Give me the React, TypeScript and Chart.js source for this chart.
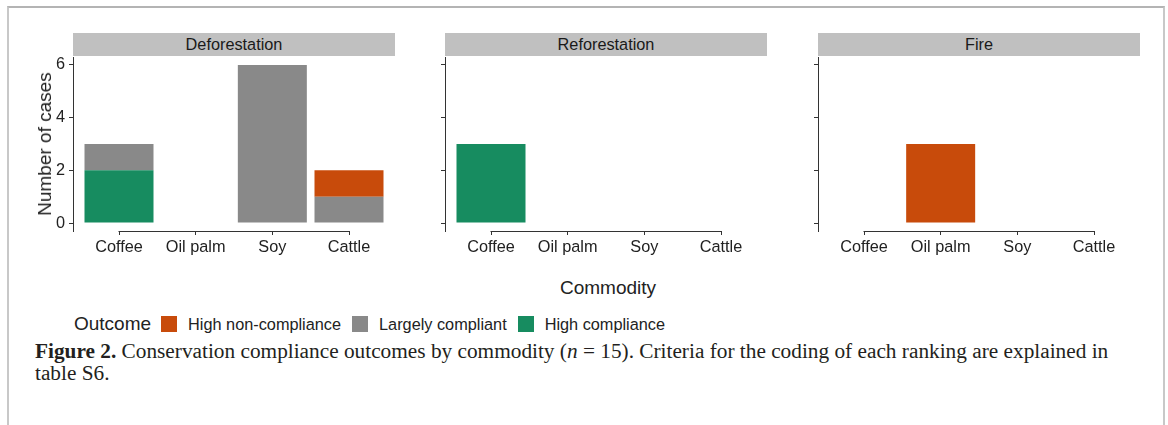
import React, { useEffect, useRef } from "react";
import { Chart, registerables } from "chart.js";

Chart.register(...registerables);

// ---------- data ----------
const commodities = ["Coffee", "Oil palm", "Soy", "Cattle"];
const panelTitles = ["Deforestation", "Reforestation", "Fire"];
const outcomes = ["High non-compliance", "Largely compliant", "High compliance"];
const outcomeColors = ["#C84B0B", "#898989", "#178C60"];
const yTicks = [0, 2, 4, 6];

// number of cases per commodity (Coffee, Oil palm, Soy, Cattle)
const deforestationHighNon = [0, 0, 0, 1];
const deforestationLargely = [1, 0, 6, 1];
const deforestationHigh = [2, 0, 0, 0];

const reforestationHighNon = [0, 0, 0, 0];
const reforestationLargely = [0, 0, 0, 0];
const reforestationHigh = [3, 0, 0, 0];

const fireHighNon = [0, 3, 0, 0];
const fireLargely = [0, 0, 0, 0];
const fireHigh = [0, 0, 0, 0];

const panelSeries = [
  [deforestationHighNon, deforestationLargely, deforestationHigh],
  [reforestationHighNon, reforestationLargely, reforestationHigh],
  [fireHighNon, fireLargely, fireHigh],
];

// ---------- layout ----------
const SANS = "'Liberation Sans', Arial, Helvetica, sans-serif";
const SERIF = "'Liberation Serif', 'Times New Roman', serif";
const TEXT = "#222222";
const AXIS = "#333333";
const panelLefts = [73, 445, 818];
const plotW = 322;
const plotTop = 57;
const plotH = 174;
const yAxisW = 60;
const xAxisH = 35;
const padTop = 17;
const padRight = 10;

const cappedXAxis = {
  id: "cappedXAxis",
  afterDraw(chart: any) {
    const xs = chart.scales.x;
    const ctx = chart.ctx;
    const y = Math.round(chart.chartArea.bottom) + 0.5;
    ctx.save();
    ctx.strokeStyle = AXIS;
    ctx.lineWidth = 1;
    ctx.beginPath();
    ctx.moveTo(Math.round(xs.getPixelForValue(0)) - 0.5, y);
    ctx.lineTo(Math.round(xs.getPixelForValue(commodities.length - 1)) + 0.5, y);
    ctx.stroke();
    ctx.restore();
  },
};

function Panel({ index }: { index: number }) {
  const ref = useRef<HTMLCanvasElement>(null);
  useEffect(() => {
    const series = panelSeries[index];
    // stack bottom -> top: High compliance, Largely compliant, High non-compliance
    const datasets = [2, 1, 0].map((k) => ({
      label: outcomes[k],
      data: series[k].map((v, i) => ({ x: i, y: v })),
      backgroundColor: outcomeColors[k],
      borderWidth: 0,
      stack: "s",
      categoryPercentage: 1,
      barPercentage: 0.9,
    }));
    const chart = new Chart(ref.current as HTMLCanvasElement, {
      type: "bar",
      data: { datasets } as any,
      plugins: [cappedXAxis],
      options: {
        responsive: false,
        animation: false,
        devicePixelRatio: 1,
        layout: { padding: { top: padTop, right: padRight, left: 0, bottom: 0 } },
        plugins: {
          legend: { display: false },
          tooltip: { enabled: false },
          title: { display: false },
        },
        scales: {
          x: {
            type: "linear",
            min: -0.6,
            max: commodities.length - 1 + 0.6,
            bounds: "data",
            stacked: true,
            offset: false,
            afterBuildTicks: (axis: any) => {
              axis.ticks = commodities.map((_, i) => ({ value: i }));
            },
            afterFit: (axis: any) => {
              axis.height = xAxisH;
            },
            ticks: {
              callback: (v: any) => commodities[Math.round(Number(v))],
              font: { family: SANS, size: 16.3 },
              color: TEXT,
              padding: 3,
              autoSkip: false,
              maxRotation: 0,
              minRotation: 0,
            },
            grid: {
              display: true,
              drawOnChartArea: false,
              drawTicks: true,
              tickLength: 4,
              color: AXIS,
              lineWidth: 1,
              offset: false,
            },
            border: { display: false },
          },
          y: {
            type: "linear",
            min: -0.3,
            max: 6.3,
            bounds: "data",
            stacked: true,
            afterBuildTicks: (axis: any) => {
              axis.ticks = yTicks.map((v) => ({ value: v }));
            },
            afterFit: (axis: any) => {
              axis.width = yAxisW;
            },
            ticks: {
              display: index === 0,
              font: { family: SANS, size: 16.3 },
              color: TEXT,
              padding: 4,
            },
            grid: {
              display: true,
              drawOnChartArea: false,
              drawTicks: true,
              tickLength: 4,
              color: AXIS,
              lineWidth: 1,
            },
            border: { display: true, color: AXIS, width: 1 },
          },
        },
      } as any,
    });
    return () => chart.destroy();
  }, [index]);

  const left = panelLefts[index];
  return (
    <>
      <div
        style={{
          position: "absolute",
          left,
          top: 33,
          width: plotW,
          height: 23,
          background: "#C0C0C0",
          color: "#1a1a1a",
          font: `16.3px ${SANS}`,
          lineHeight: "23px",
          textAlign: "center",
        }}
      >
        {panelTitles[index]}
      </div>
      <canvas
        ref={ref}
        width={yAxisW + plotW + padRight}
        height={padTop + plotH + xAxisH}
        style={{
          position: "absolute",
          left: left - yAxisW,
          top: plotTop - padTop,
          width: yAxisW + plotW + padRight,
          height: padTop + plotH + xAxisH,
        }}
      />
    </>
  );
}

export default function App() {
  return (
    <div
      style={{
        position: "absolute",
        left: 0,
        top: 0,
        width: 1168,
        height: 425,
        overflow: "hidden",
        background: "#ffffff",
      }}
    >
      <div
        style={{
          position: "absolute",
          left: 7,
          top: 6,
          width: 1158,
          height: 419,
          boxSizing: "border-box",
          borderTop: "2px solid #B4B4B4",
          borderLeft: "2px solid #C8C8C8",
          borderRight: "2px solid #C8C8C8",
        }}
      />
      {panelTitles.map((_, i) => (
        <Panel key={i} index={i} />
      ))}
      <div
        style={{
          position: "absolute",
          left: 45,
          top: 144,
          transform: "translate(-50%, -50%) rotate(-90deg)",
          whiteSpace: "nowrap",
          font: `19px ${SANS}`,
          color: TEXT,
        }}
      >
        Number of cases
      </div>
      <div
        style={{
          position: "absolute",
          left: 608,
          top: 288,
          transform: "translate(-50%, -50%)",
          whiteSpace: "nowrap",
          font: `19px ${SANS}`,
          color: TEXT,
        }}
      >
        Commodity
      </div>
      <div
        style={{
          position: "absolute",
          left: 74,
          top: 324,
          transform: "translateY(-50%)",
          display: "flex",
          alignItems: "center",
          whiteSpace: "nowrap",
          color: TEXT,
          font: `16.3px ${SANS}`,
        }}
      >
        <span style={{ fontSize: 19, marginRight: 10 }}>Outcome</span>
        {outcomes.map((o, k) => (
          <React.Fragment key={o}>
            <span
              style={{
                display: "inline-block",
                width: 16,
                height: 16,
                background: outcomeColors[k],
                marginRight: 11,
              }}
            />
            <span style={{ marginRight: 11 }}>{o}</span>
          </React.Fragment>
        ))}
      </div>
      <div
        style={{
          position: "absolute",
          left: 35,
          top: 340,
          width: 1120,
          font: `21.3px ${SERIF}`,
          lineHeight: "22px",
          color: "#231f20",
          whiteSpace: "nowrap",
        }}
      >
        <b>Figure 2.</b> Conservation compliance outcomes by commodity (<i>n</i> = 15). Criteria for the coding of each ranking are explained in
        <br />
        table S6.
      </div>
    </div>
  );
}
